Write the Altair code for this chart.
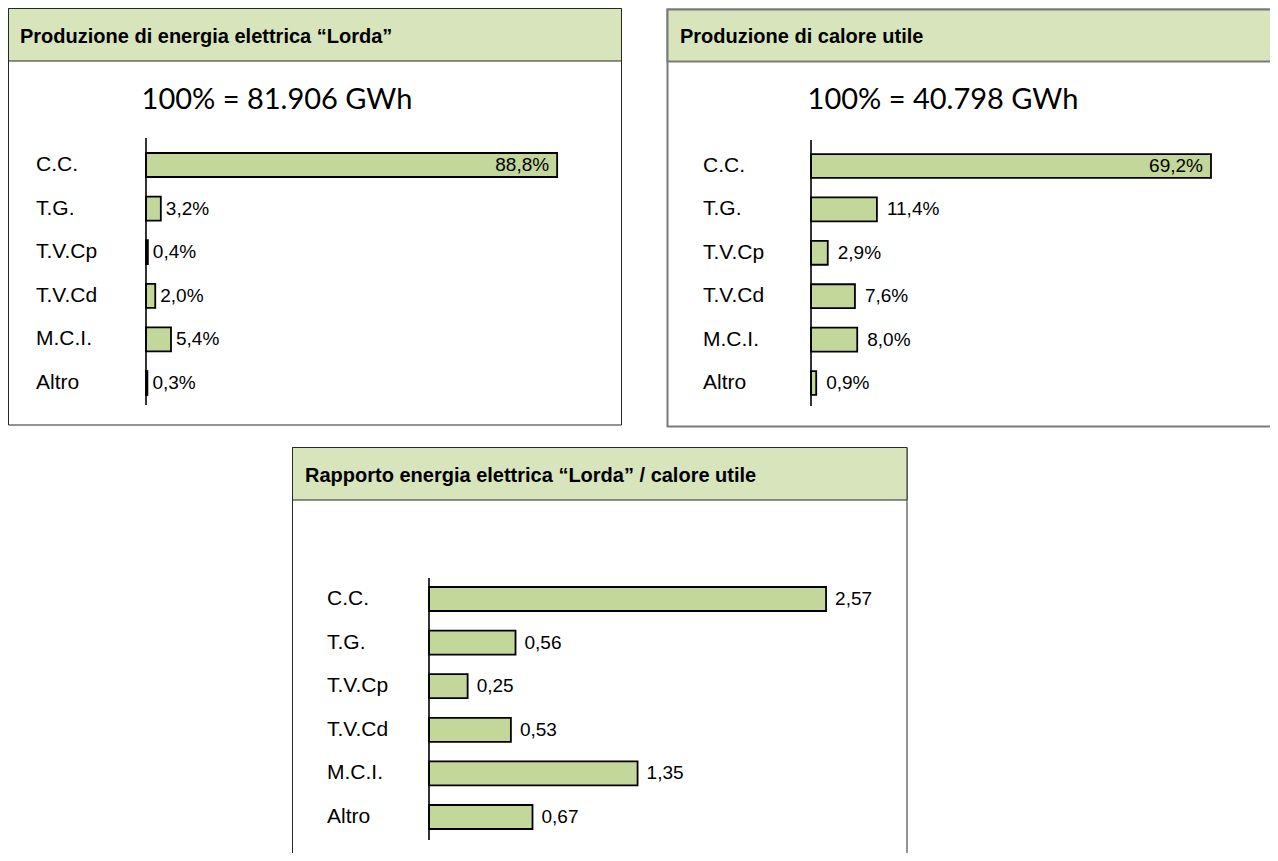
import altair as alt
import pandas as pd

# ---- data ----
categories = ["C.C.", "T.G.", "T.V.Cp", "T.V.Cd", "M.C.I.", "Altro"]
elettrica_pct = [88.8, 3.2, 0.4, 2.0, 5.4, 0.3]
calore_pct = [69.2, 11.4, 2.9, 7.6, 8.0, 0.9]
rapporto = [2.57, 0.56, 0.25, 0.53, 1.35, 0.67]

titles = [
    "Produzione di energia elettrica \u201cLorda\u201d",
    "Produzione di calore utile",
    "Rapporto energia elettrica \u201cLorda\u201d / calore utile",
]
subtitles = ["100% = 81.906 GWh", "100% = 40.798 GWh"]

HEADER_FILL = "#d8e4bc"
BAR_FILL = "#c4d79b"
ARIAL = "Liberation Sans"
CALIBRI = "Lato"


def pct_label(v):
    return f"{v:.1f}".replace(".", ",") + "%"


def num_label(v):
    return f"{v:.2f}".replace(".", ",")


def make_df(values, fmt, inside_thr):
    return pd.DataFrame({
        "cat": categories,
        "v": values,
        "lab": [fmt(v) for v in values],
        "inside": [1 if (inside_thr is not None and v > inside_thr) else 0 for v in values],
    })


one = pd.DataFrame({"k": [0]})
zero = pd.DataFrame({"v": [0.0]})


def panel(df, W, H, box, head_y2, title, title_xy, sub, sub_xy, x_dom, x_rng,
          y_rng, rule_y, cat_x, dx_out, border_color, border_w):
    x1, y1, x2, y2 = box
    xs = alt.Scale(domain=x_dom, range=x_rng)
    ys = alt.Scale(domain=categories, range=y_rng, paddingInner=0.45, paddingOuter=0.225)
    X = alt.X("v:Q", scale=xs, axis=None)
    Y = alt.Y("cat:N", scale=ys, axis=None)

    layers = []
    layers.append(alt.Chart(one).mark_rect(fill="white", stroke=border_color,
                                           strokeWidth=border_w, clip=True).encode(
        x=alt.value(x1), x2=alt.value(x2), y=alt.value(y1), y2=alt.value(y2)))
    layers.append(alt.Chart(one).mark_rect(fill=HEADER_FILL, stroke=border_color,
                                           strokeWidth=border_w, clip=True).encode(
        x=alt.value(x1), x2=alt.value(x2), y=alt.value(y1), y2=alt.value(head_y2)))
    layers.append(alt.Chart(one).mark_text(text=title, align="left", baseline="middle",
                                           font=ARIAL, fontSize=20, fontWeight="bold",
                                           color="black").encode(
        x=alt.value(title_xy[0]), y=alt.value(title_xy[1])))
    if sub:
        layers.append(alt.Chart(one).mark_text(text=sub, align="center", baseline="middle",
                                               font=CALIBRI, fontSize=29,
                                               color="black").encode(
            x=alt.value(sub_xy[0]), y=alt.value(sub_xy[1])))
    layers.append(alt.Chart(df).mark_bar(fill=BAR_FILL, stroke="black", strokeWidth=1.8).encode(
        x=X, y=Y))
    layers.append(alt.Chart(zero).mark_rule(color="black", strokeWidth=1.6).encode(
        x=X, y=alt.value(rule_y[0]), y2=alt.value(rule_y[1])))
    layers.append(alt.Chart(df).mark_text(align="left", baseline="middle", font=ARIAL,
                                          fontSize=21, color="black").encode(
        x=alt.value(cat_x), y=Y, text="cat:N"))
    layers.append(alt.Chart(df).transform_filter("datum.inside == 0").mark_text(
        align="left", baseline="middle", font=ARIAL, fontSize=19, dx=dx_out,
        color="black").encode(x=X, y=Y, text="lab:N"))
    layers.append(alt.Chart(df).transform_filter("datum.inside == 1").mark_text(
        align="right", baseline="middle", font=ARIAL, fontSize=19, dx=-8,
        color="black").encode(x=X, y=Y, text="lab:N"))
    return alt.layer(*layers).properties(width=W, height=H)


p1 = panel(make_df(elettrica_pct, pct_label, 50), 655, 436,
           (0.5, 0.5, 613.5, 417), 53, titles[0], (12, 29), subtitles[0], (269, 92),
           [0, 100], [138, 601], [135.2, 396.8], (130, 397), 28, 5, "#262626", 1)

p2 = panel(make_df(calore_pct, pct_label, 50), 607, 436,
           (4.5, 1.5, 620, 418.5), 53.5, titles[1], (17, 29), subtitles[1], (280, 92),
           [0, 100], [148, 726], [136.3, 396.7], (132, 398), 40, 10, "#7a7a7a", 2)

p3 = panel(make_df(rapporto, num_label, None), 1262, 409,
           (284.5, 3.5, 899, 430), 56, titles[2], (297, 32), None, None,
           [0, 3], [421, 884.5], [133.2, 394.8], (134, 396), 319, 9, "#262626", 1)

chart = alt.vconcat(
    alt.hconcat(p1, p2, spacing=0),
    p3,
    spacing=0,
).properties(padding=0).configure_view(strokeWidth=0)

chart.save("out.html", embed_options={"renderer": "svg", "actions": False})
